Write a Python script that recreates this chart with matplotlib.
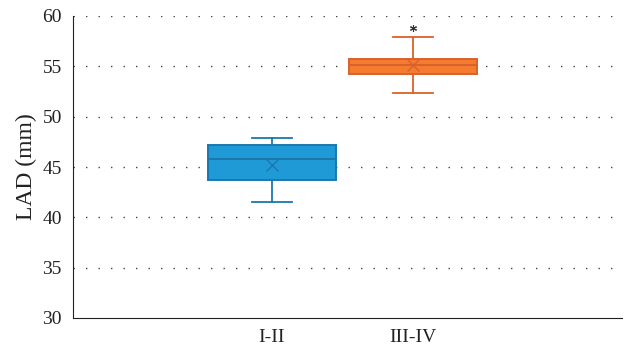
import matplotlib
matplotlib.use("Agg")
import matplotlib.pyplot as plt

categories = ["I-II", "III-IV"]
q1 = [43.7, 54.2]
q3 = [47.2, 55.7]
medians = [45.8, 55.1]
means = [45.2, 55.1]
whislo = [41.5, 52.4]
whishi = [47.9, 57.9]
outliers = [[], [58.8]]
yticks = [30, 35, 40, 45, 50, 55, 60]

faces = ["#1f9ad6", "#f47b30"]
edges = ["#1a78ad", "#d9622a"]

plt.rcParams["font.family"] = ["Liberation Serif", "DejaVu Serif"]
fig = plt.figure(figsize=(6.28, 3.49), dpi=100)
ax = fig.add_axes([73/628, 1 - 318/349, (622-73)/628, (318-16)/349])

positions = [1, 2]
for i in range(2):
    st = [dict(med=medians[i], q1=q1[i], q3=q3[i], whislo=whislo[i], whishi=whishi[i],
               mean=means[i], fliers=outliers[i], label=categories[i])]
    ax.bxp(st, positions=[positions[i]], widths=0.91, patch_artist=True, showmeans=True,
           meanline=False, capwidths=0.28,
           boxprops=dict(facecolor=faces[i], edgecolor=edges[i], linewidth=1.4),
           medianprops=dict(color=edges[i], linewidth=1.4),
           whiskerprops=dict(color=edges[i], linewidth=1.3),
           capprops=dict(color=edges[i], linewidth=1.3),
           meanprops=dict(marker="x", markeredgecolor=edges[i], markersize=9, markeredgewidth=1.0),
           flierprops=dict(marker=(6, 2, 0), markeredgecolor="#333333", markersize=5, markeredgewidth=0.8),
           zorder=3)

ax.set_xlim(-0.41, 3.48)
ax.set_ylim(30, 60)
ax.set_yticks(yticks)
ax.set_xticks(positions)
ax.set_xticklabels(categories)
ax.tick_params(axis="both", length=0, labelsize=14, colors="#222222")
ax.tick_params(axis="x", pad=8)
ax.tick_params(axis="y", pad=8)
for y in yticks[1:]:
    ax.axhline(y, color="#444444", linestyle=(0, (1, 8)), linewidth=1.0, zorder=1)
ax.spines["top"].set_visible(False)
ax.spines["right"].set_visible(False)
ax.spines["left"].set_color("#222222")
ax.spines["bottom"].set_color("#222222")
ax.set_ylabel("LAD (mm)", fontsize=17, color="#222222", labelpad=4)

fig.savefig("out.png", dpi=100)
